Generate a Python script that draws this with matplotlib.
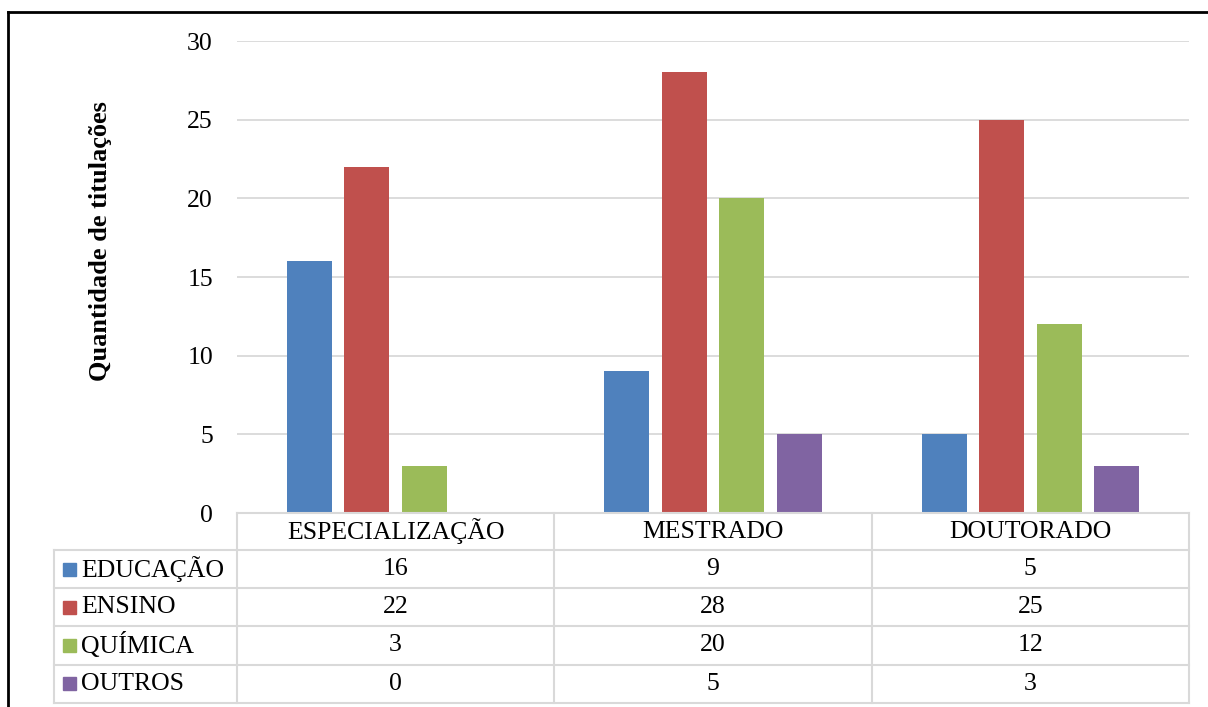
import matplotlib
matplotlib.use("Agg")
import matplotlib.pyplot as plt
import numpy as np

categories = ["ESPECIALIZAÇÃO", "MESTRADO", "DOUTORADO"]
series_names = ["EDUCAÇÃO", "ENSINO", "QUÍMICA", "OUTROS"]
educacao = [16, 9, 5]
ensino = [22, 28, 25]
quimica = [3, 20, 12]
outros = [0, 5, 3]
series_values = [educacao, ensino, quimica, outros]
colors = ["#4F81BD", "#C0504D", "#9BBB59", "#8064A2"]
y_ticks = [0, 5, 10, 15, 20, 25, 30]

plt.rcParams["font.family"] = ["Liberation Serif", "DejaVu Serif"]

W, H = 1208, 707
fig = plt.figure(figsize=(W / 100, H / 100), dpi=100)

def fx(px):
    return px / W

def fy(py):
    return 1 - py / H

# layout in pixels
plot_l, plot_r = 237, 1189
plot_t, plot_b = 41, 513
tab_l = 54
row_edges = [513, 550, 588, 626, 664.5, 703]
grid_col = "#d9d9d9"
fs = 18.5

ax = fig.add_axes([fx(plot_l), fy(plot_b), fx(plot_r) - fx(plot_l), fy(plot_t) - fy(plot_b)])
n_cat = len(categories)
x = np.arange(n_cat)
bar_w = 0.142
step = 0.181
n_ser = len(series_values)
for i, (vals, c) in enumerate(zip(series_values, colors)):
    offs = (i - (n_ser - 1) / 2) * step
    ax.bar(x + offs, vals, width=bar_w, color=c, zorder=3)
ax.set_xlim(-0.5, n_cat - 0.5)
ax.set_ylim(0, 30)
ax.set_yticks(y_ticks)
ax.set_yticklabels([str(t) for t in y_ticks], fontsize=fs)
ax.tick_params(axis="y", length=0, pad=17.3)
ax.set_xticks([])
ax.yaxis.grid(True, color=grid_col, linewidth=1.3, zorder=0)
for s in ax.spines.values():
    s.set_visible(False)
fig.text(fx(100), fy(241), "Quantidade de titulações", rotation=90, ha="center", va="center",
         fontsize=19, fontweight="bold")

# data table below the plot
tax = fig.add_axes([fx(tab_l), fy(row_edges[-1]), fx(plot_r) - fx(tab_l), fy(row_edges[0]) - fy(row_edges[-1])])
tax.set_xlim(tab_l, plot_r)
tax.set_ylim(row_edges[-1], row_edges[0])
tax.axis("off")
col_w = (plot_r - plot_l) / n_cat
col_edges = [plot_l + k * col_w for k in range(n_cat + 1)]
lw = 1.5
# horizontal lines
tax.plot([plot_l, plot_r], [row_edges[0]] * 2, color=grid_col, lw=lw, clip_on=False)
for y in row_edges[1:]:
    tax.plot([tab_l, plot_r], [y, y], color=grid_col, lw=lw, clip_on=False)
# vertical lines
tax.plot([tab_l, tab_l], [row_edges[1], row_edges[-1]], color=grid_col, lw=lw, clip_on=False)
for xe in col_edges:
    tax.plot([xe, xe], [row_edges[0], row_edges[-1]], color=grid_col, lw=lw, clip_on=False)

for j, cat in enumerate(categories):
    cx = (col_edges[j] + col_edges[j + 1]) / 2
    tax.text(cx, (row_edges[0] + row_edges[1]) / 2, cat, ha="center", va="center", fontsize=fs)
for i, (name, vals, c) in enumerate(zip(series_names, series_values, colors)):
    cy = (row_edges[i + 1] + row_edges[i + 2]) / 2
    tax.add_patch(plt.Rectangle((63, cy - 6.5), 13, 13, color=c, clip_on=False))
    tax.text(81, cy, name, ha="left", va="center", fontsize=fs)
    for j, v in enumerate(vals):
        cx = (col_edges[j] + col_edges[j + 1]) / 2
        tax.text(cx, cy, str(v), ha="center", va="center", fontsize=fs)

# frame lines around the figure
fig.add_artist(plt.Line2D([fx(8), 1], [fy(12), fy(12)], color="black", lw=2))
fig.add_artist(plt.Line2D([fx(8), fx(8)], [fy(12), 0], color="black", lw=2))

fig.savefig("out.png", dpi=100)
